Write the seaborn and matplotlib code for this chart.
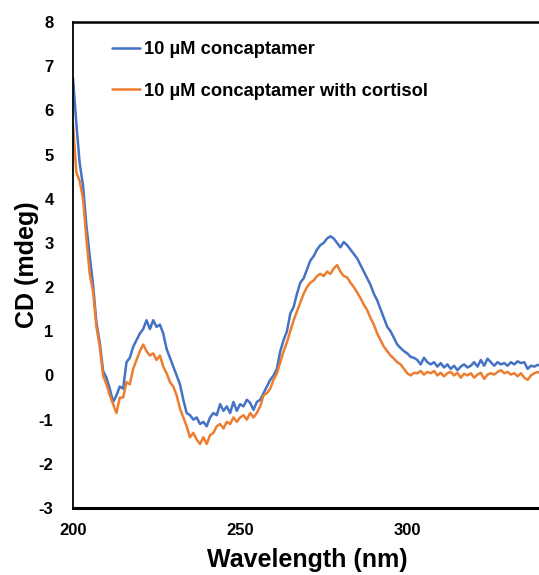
import numpy as np
import pandas as pd
import matplotlib
matplotlib.use("Agg")
import matplotlib.pyplot as plt
import seaborn as sns
from matplotlib.lines import Line2D

wavelength = list(range(200, 341))

cd_concaptamer = [
    6.73, 5.70, 4.80, 4.30, 3.40, 2.70, 2.05, 1.20, 0.75, 0.10,
    -0.05, -0.30, -0.60, -0.45, -0.25, -0.30, 0.30, 0.40, 0.65, 0.80,
    0.95, 1.05, 1.25, 1.05, 1.25, 1.10, 1.15, 0.95, 0.60, 0.40,
    0.20, 0.00, -0.20, -0.55, -0.85, -0.90, -1.00, -0.95, -1.10, -1.05,
    -1.15, -0.95, -0.85, -0.90, -0.65, -0.80, -0.70, -0.85, -0.60, -0.80,
    -0.65, -0.70, -0.55, -0.62, -0.78, -0.60, -0.55, -0.40, -0.25, -0.10,
    0.00, 0.15, 0.55, 0.80, 1.00, 1.40, 1.55, 1.85, 2.10, 2.20,
    2.40, 2.60, 2.70, 2.85, 2.95, 3.00, 3.10, 3.15, 3.10, 3.00,
    2.90, 3.02, 2.95, 2.85, 2.75, 2.65, 2.50, 2.35, 2.20, 2.05,
    1.85, 1.70, 1.50, 1.30, 1.10, 1.00, 0.85, 0.70, 0.62, 0.55,
    0.50, 0.42, 0.40, 0.35, 0.25, 0.40, 0.30, 0.25, 0.30, 0.20,
    0.28, 0.18, 0.25, 0.15, 0.22, 0.12, 0.20, 0.25, 0.18, 0.22,
    0.30, 0.20, 0.35, 0.22, 0.38, 0.30, 0.22, 0.30, 0.25, 0.28,
    0.22, 0.30, 0.25, 0.32, 0.28, 0.30, 0.15, 0.22, 0.20, 0.24,
    0.22,
]

cd_cortisol = [
    5.67, 4.60, 4.40, 4.00, 3.10, 2.30, 1.90, 1.10, 0.65, 0.00,
    -0.20, -0.45, -0.65, -0.85, -0.50, -0.50, -0.15, -0.20, 0.15, 0.35,
    0.55, 0.70, 0.55, 0.45, 0.50, 0.35, 0.45, 0.20, 0.05, -0.15,
    -0.25, -0.45, -0.75, -0.95, -1.15, -1.40, -1.30, -1.45, -1.55, -1.40,
    -1.55, -1.35, -1.30, -1.15, -1.10, -1.20, -1.05, -1.10, -0.95, -1.05,
    -0.95, -0.90, -1.00, -0.85, -0.95, -0.85, -0.70, -0.45, -0.40, -0.30,
    -0.10, 0.05, 0.30, 0.55, 0.75, 1.00, 1.25, 1.45, 1.65, 1.85,
    2.00, 2.10, 2.15, 2.25, 2.30, 2.25, 2.35, 2.30, 2.42, 2.50,
    2.35, 2.25, 2.22, 2.10, 2.00, 1.88, 1.75, 1.60, 1.48, 1.30,
    1.15, 0.95, 0.80, 0.65, 0.55, 0.45, 0.38, 0.30, 0.25, 0.15,
    0.05, 0.00, 0.06, 0.05, 0.10, 0.02, 0.08, 0.05, 0.10, 0.00,
    0.06, -0.02, 0.05, 0.08, 0.00, 0.06, -0.05, 0.04, 0.00, 0.05,
    -0.05, 0.02, 0.06, -0.08, 0.02, 0.05, 0.02, 0.08, 0.12, 0.05,
    0.08, 0.02, 0.05, -0.02, 0.05, -0.05, -0.10, 0.00, 0.05, 0.08,
    0.05,
]

series_names = ["10 \u00b5M concaptamer", "10 \u00b5M concaptamer with cortisol"]
series_colors = ["#4472C4", "#ED7D31"]
x_ticks = [200, 250, 300]
y_ticks = list(range(-3, 9))

df = pd.concat([
    pd.DataFrame({"Wavelength": wavelength, "CD": cd_concaptamer, "Series": series_names[0]}),
    pd.DataFrame({"Wavelength": wavelength, "CD": cd_cortisol, "Series": series_names[1]}),
], ignore_index=True)

sns.set_style("white")
plt.rcParams["font.family"] = ["Liberation Sans", "DejaVu Sans"]
plt.rcParams["font.weight"] = "bold"
plt.rcParams["text.color"] = "black"
plt.rcParams["axes.labelcolor"] = "black"
plt.rcParams["xtick.color"] = "black"
plt.rcParams["ytick.color"] = "black"

W, H = 539, 575
fig = plt.figure(figsize=(W / 100, H / 100), dpi=100)
left, right, top, bottom = 73, 541, 22, 508
ax = fig.add_axes([left / W, (H - bottom) / H, (right - left) / W, (bottom - top) / H])

sns.lineplot(data=df, x="Wavelength", y="CD", hue="Series",
             palette=dict(zip(series_names, series_colors)),
             linewidth=1.8, ax=ax, legend=False)

ax.set_xlim(200, 340)
ax.set_ylim(-3, 8)
ax.set_xticks(x_ticks)
ax.set_yticks(y_ticks)
ax.set_xticklabels([str(t) for t in x_ticks], fontsize=12, fontweight="bold")
ax.set_yticklabels([str(t) for t in y_ticks], fontsize=12, fontweight="bold")
ax.tick_params(axis="x", direction="out", length=5, width=1.5, pad=6, color="black")
ax.tick_params(axis="y", length=0, pad=14)

for s in ["left", "bottom", "top"]:
    ax.spines[s].set_visible(True)
    ax.spines[s].set_color("black")
ax.spines["left"].set_linewidth(1.3)
ax.spines["bottom"].set_linewidth(2.2)
ax.spines["top"].set_linewidth(1.8)
ax.spines["right"].set_visible(False)

ax.set_xlabel("Wavelength (nm)", fontsize=18, fontweight="bold", labelpad=7)
ax.set_ylabel("CD (mdeg)", fontsize=18, fontweight="bold", labelpad=0)

handles = [Line2D([], [], color=c, lw=1.8) for c in series_colors]
leg = ax.legend(handles, series_names, loc="upper left",
                bbox_to_anchor=(95 / W, 1 - 25 / H), bbox_transform=fig.transFigure,
                frameon=False, handlelength=1.55, handletextpad=0.2,
                labelspacing=1.33, prop={"size": 13.2, "weight": "bold"})

fig.savefig("out.png", dpi=100)
